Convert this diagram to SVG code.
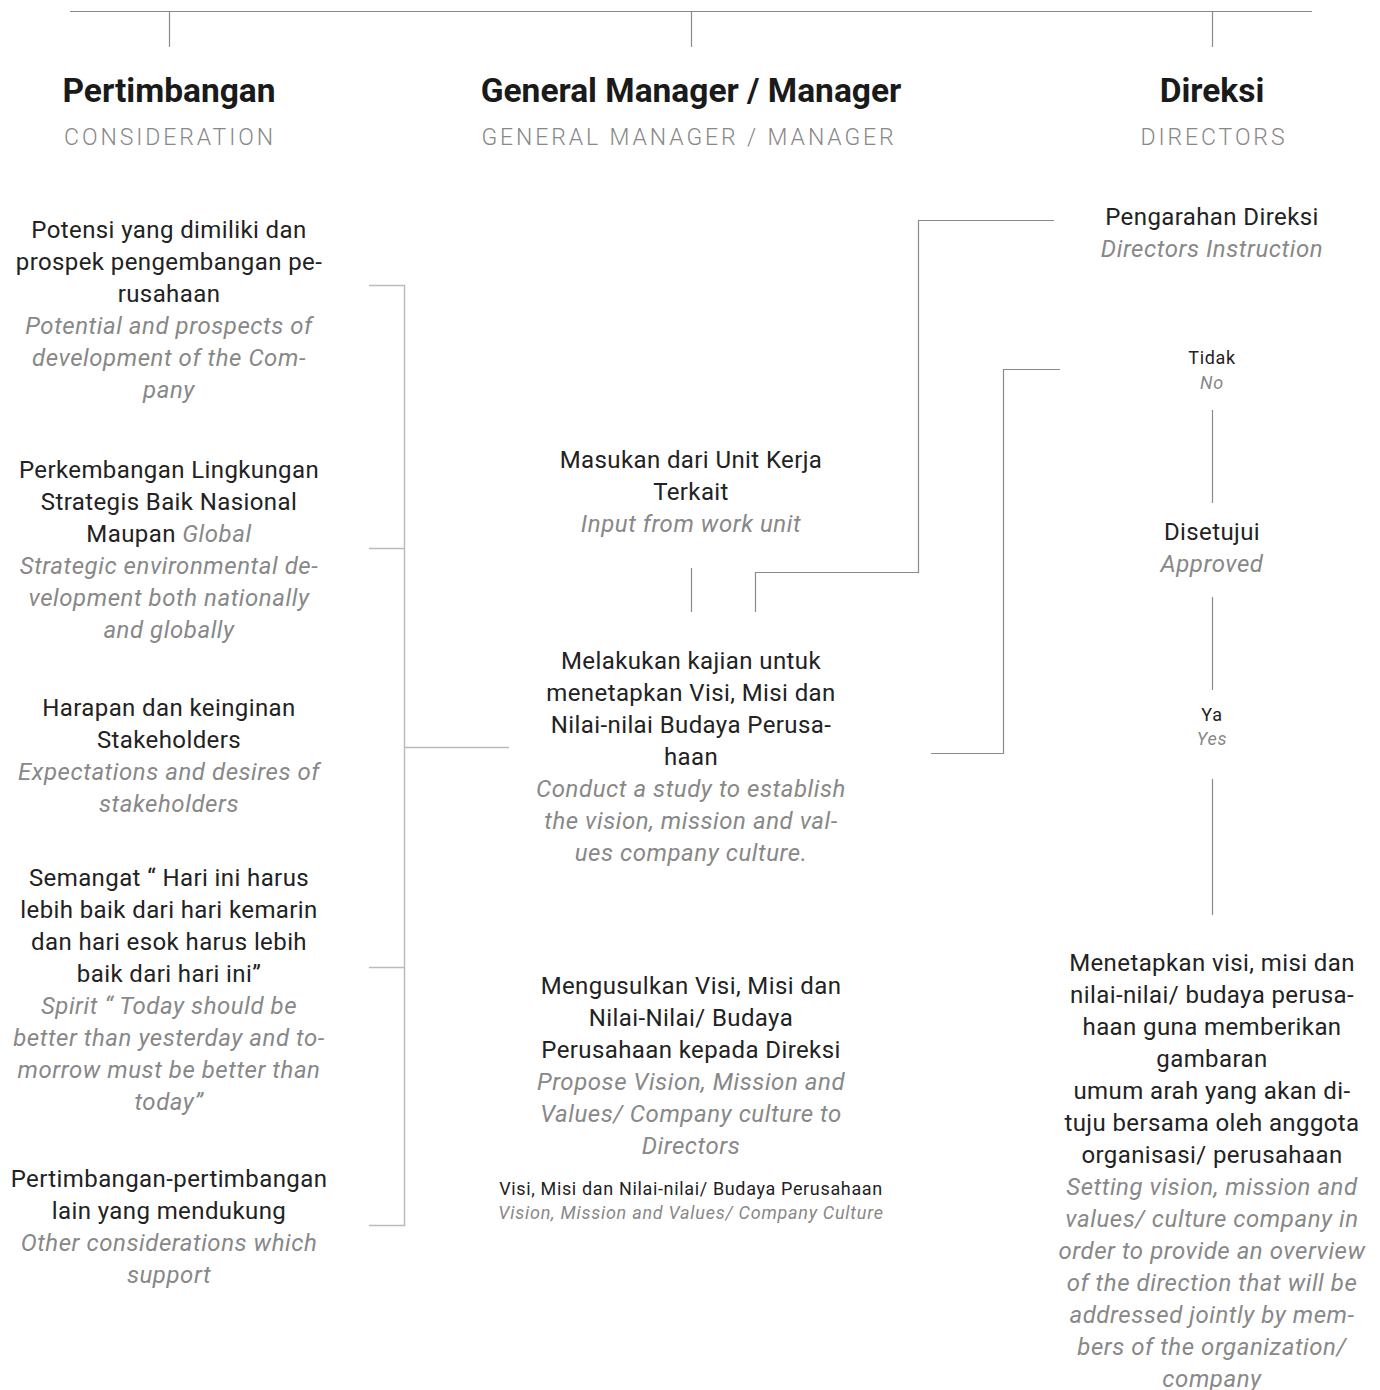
<svg xmlns="http://www.w3.org/2000/svg" width="1380" height="1390" viewBox="0 0 1380 1390">
<style>
text{font-family:Roboto,"Liberation Sans",sans-serif;text-anchor:middle}
.h{font-size:33.5px;font-weight:700;fill:#1a1a1a}
.s{font-size:23px;font-weight:300;fill:#888;letter-spacing:2.9px}
.t{font-size:24px;fill:#222;letter-spacing:0.4px}
.i{font-size:24px;font-style:italic;fill:#888;letter-spacing:0.55px}
.st{font-size:18px;fill:#222;letter-spacing:0.65px}
.si{font-size:18px;font-style:italic;fill:#888;letter-spacing:0.75px}
.ln{stroke:#8a8a8a;stroke-width:1.2;fill:none}
.lb{stroke:#bbb;stroke-width:1.5;fill:none}
</style>
<rect width="1380" height="1390" fill="#fff"/>
<g id="connectors">
<path class="ln" d="M70 11.5H1312M169.5 11V47M691.5 11V47M1212.5 11V47"/>
<path class="lb" d="M369 285.5H404.5V1225.5H369M369 548.5H404.5M369 967.5H404.5M404.5 747.5H509"/>
<path class="ln" d="M691.5 568V612"/>
<path class="ln" d="M755.5 612V572.5H918.5V220.5H1054"/>
<path class="ln" d="M931 753.5H1003.5V369.5H1060"/>
<path class="ln" d="M1212.5 410V503M1212.5 597V690M1212.5 779V915"/>
</g>
<g id="head-pertimbangan"><text class="h" x="169" y="102">Pertimbangan</text><text class="s" x="170" y="145">CONSIDERATION</text></g>
<g id="head-gm"><text class="h" x="691" y="102">General Manager / Manager</text><text class="s" x="689" y="145">GENERAL MANAGER / MANAGER</text></g>
<g id="head-direksi"><text class="h" x="1212" y="102">Direksi</text><text class="s" x="1214" y="145">DIRECTORS</text></g>
<g id="potensi">
<text class="t" x="169" y="238">Potensi yang dimiliki dan</text>
<text class="t" x="169" y="270">prospek pengembangan pe-</text>
<text class="t" x="169" y="302">rusahaan</text>
<text class="i" x="169" y="334">Potential and prospects of</text>
<text class="i" x="169" y="366">development of the Com-</text>
<text class="i" x="169" y="398">pany</text>
</g>
<g id="perkembangan">
<text class="t" x="169" y="478">Perkembangan Lingkungan</text>
<text class="t" x="169" y="510">Strategis Baik Nasional</text>
<text class="t" x="169" y="542">Maupan <tspan class="i">Global</tspan></text>
<text class="i" x="169" y="574">Strategic environmental de-</text>
<text class="i" x="169" y="606">velopment both nationally</text>
<text class="i" x="169" y="638">and globally</text>
</g>
<g id="harapan">
<text class="t" x="169" y="716">Harapan dan keinginan</text>
<text class="t" x="169" y="748">Stakeholders</text>
<text class="i" x="169" y="780">Expectations and desires of</text>
<text class="i" x="169" y="812">stakeholders</text>
</g>
<g id="semangat">
<text class="t" x="169" y="886">Semangat “ Hari ini harus</text>
<text class="t" x="169" y="918">lebih baik dari hari kemarin</text>
<text class="t" x="169" y="950">dan hari esok harus lebih</text>
<text class="t" x="169" y="982">baik dari hari ini”</text>
<text class="i" x="169" y="1014">Spirit “ Today should be</text>
<text class="i" x="169" y="1046">better than yesterday and to-</text>
<text class="i" x="169" y="1078">morrow must be better than</text>
<text class="i" x="169" y="1110">today”</text>
</g>
<g id="lain">
<text class="t" x="169" y="1187">Pertimbangan-pertimbangan</text>
<text class="t" x="169" y="1219">lain yang mendukung</text>
<text class="i" x="169" y="1251">Other considerations which</text>
<text class="i" x="169" y="1283">support</text>
</g>
<g id="masukan">
<text class="t" x="691" y="468">Masukan dari Unit Kerja</text>
<text class="t" x="691" y="500">Terkait</text>
<text class="i" x="691" y="532">Input from work unit</text>
</g>
<g id="melakukan">
<text class="t" x="691" y="669">Melakukan kajian untuk</text>
<text class="t" x="691" y="701">menetapkan Visi, Misi dan</text>
<text class="t" x="691" y="733">Nilai-nilai Budaya Perusa-</text>
<text class="t" x="691" y="765">haan</text>
<text class="i" x="691" y="797">Conduct a study to establish</text>
<text class="i" x="691" y="829">the vision, mission and val-</text>
<text class="i" x="691" y="861">ues company culture.</text>
</g>
<g id="mengusulkan">
<text class="t" x="691" y="994">Mengusulkan Visi, Misi dan</text>
<text class="t" x="691" y="1026">Nilai-Nilai/ Budaya</text>
<text class="t" x="691" y="1058">Perusahaan kepada Direksi</text>
<text class="i" x="691" y="1090">Propose Vision, Mission and</text>
<text class="i" x="691" y="1122">Values/ Company culture to</text>
<text class="i" x="691" y="1154">Directors</text>
</g>
<g id="visi-label">
<text class="st" x="691" y="1195">Visi, Misi dan Nilai-nilai/ Budaya Perusahaan</text>
<text class="si" x="691" y="1219">Vision, Mission and Values/ Company Culture</text>
</g>
<g id="pengarahan">
<text class="t" x="1212" y="225">Pengarahan Direksi</text>
<text class="i" x="1212" y="257">Directors Instruction</text>
</g>
<g id="tidak">
<text class="st" x="1212" y="364">Tidak</text>
<text class="si" x="1212" y="389">No</text>
</g>
<g id="disetujui">
<text class="t" x="1212" y="540">Disetujui</text>
<text class="i" x="1212" y="572">Approved</text>
</g>
<g id="ya">
<text class="st" x="1212" y="721">Ya</text>
<text class="si" x="1212" y="745">Yes</text>
</g>
<g id="menetapkan">
<text class="t" x="1212" y="971">Menetapkan visi, misi dan</text>
<text class="t" x="1212" y="1003">nilai-nilai/ budaya perusa-</text>
<text class="t" x="1212" y="1035">haan guna memberikan</text>
<text class="t" x="1212" y="1067">gambaran</text>
<text class="t" x="1212" y="1099">umum arah yang akan di-</text>
<text class="t" x="1212" y="1131">tuju bersama oleh anggota</text>
<text class="t" x="1212" y="1163">organisasi/ perusahaan</text>
<text class="i" x="1212" y="1195">Setting vision, mission and</text>
<text class="i" x="1212" y="1227">values/ culture company in</text>
<text class="i" x="1212" y="1259">order to provide an overview</text>
<text class="i" x="1212" y="1291">of the direction that will be</text>
<text class="i" x="1212" y="1323">addressed jointly by mem-</text>
<text class="i" x="1212" y="1355">bers of the organization/</text>
<text class="i" x="1212" y="1387">company</text>
</g>
</svg>
